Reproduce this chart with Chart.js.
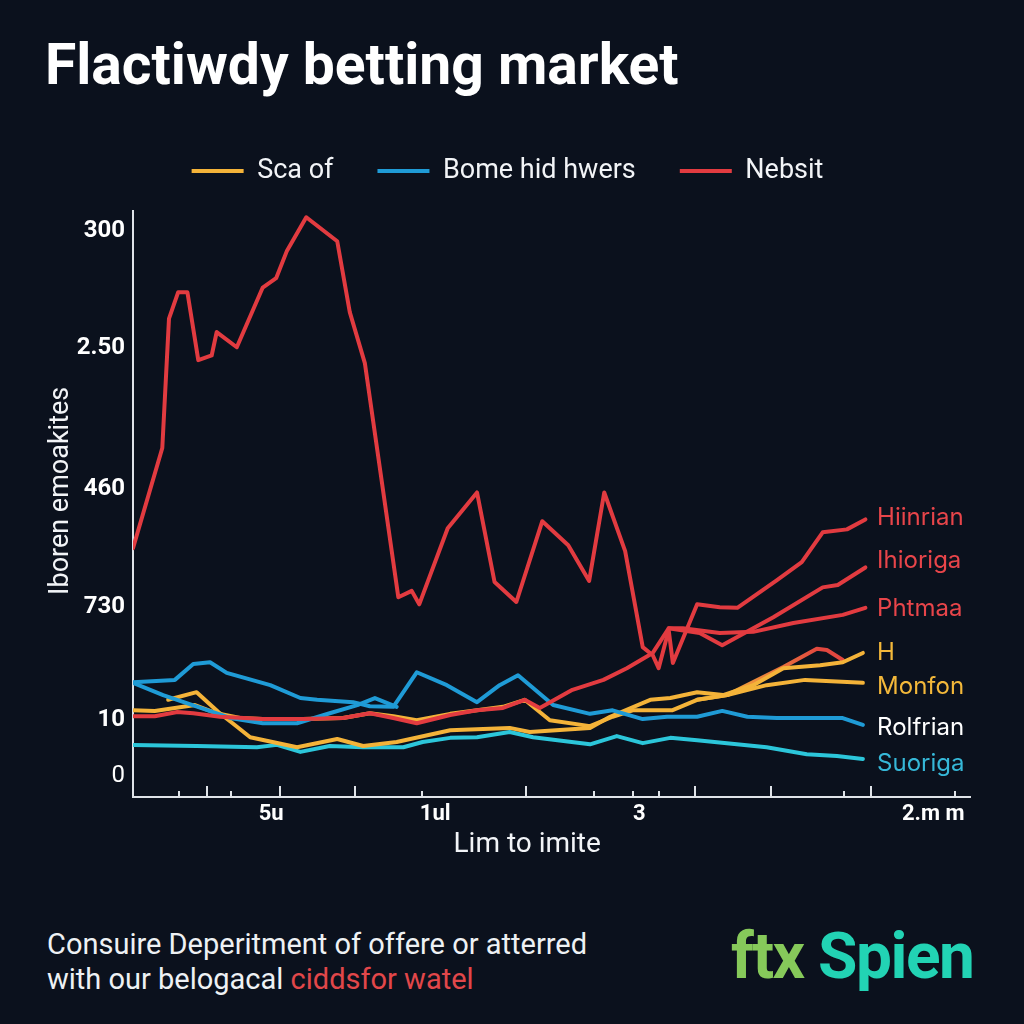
<!DOCTYPE html>
<html>
<head>
<meta charset="utf-8">
<title>Flactiwdy betting market</title>
<script src="https://cdn.jsdelivr.net/npm/chart.js@4.4.1/dist/chart.umd.min.js"></script>
<style>
  html, body { margin: 0; padding: 0; background: #0b111d; }
  body { width: 1024px; height: 1024px; position: relative; overflow: hidden; font-family: Roboto, sans-serif; }
  #wrap { position: absolute; left: 0; top: 0; width: 1024px; height: 880px; }
  .footer { position: absolute; left: 47px; top: 927px; color: #eef1f4; font-size: 29px; line-height: 35px; }
  .footer .hl { color: #e2474a; }
  .logo { position: absolute; left: 731px; top: 920px; font-family: Roboto, sans-serif; font-weight: bold; font-size: 64px; letter-spacing: -1.5px; line-height: 74px; }
  .logo .a { color: #86c95a; }
  .logo .b { color: #22d3b4; }
</style>
</head>
<body>
<div id="wrap"><canvas id="chart" width="1024" height="880"></canvas></div>
<div class="footer">Consuire Deperitment of offere or atterred<br>with our belogacal <span class="hl">ciddsfor watel</span></div>
<div class="logo"><span class="a">ftx</span> <span class="b">Spien</span></div>
<script>
// --- data (x: time index 0-100, y: market index 0-100) ---
const scaOfX  = [0, 2.6, 7.4, 10.0, 12.8, 15.5, 20.3, 25.1, 28.3, 31.1, 33.9, 37.9, 41.1, 44.2, 46.8, 49.8, 54.6, 57.3, 59.7, 64.4, 67.4, 71.0, 75.7, 80.3, 87.2];
const scaOfY  = [14.8, 14.7, 15.7, 14.3, 13.5, 13.3, 13.3, 13.5, 14.3, 13.8, 13.1, 14.2, 14.8, 15.4, 16.6, 13.1, 12.1, 13.7, 14.8, 14.8, 16.6, 17.4, 19.1, 20.0, 19.5];

const bomeX   = [0, 5.0, 7.2, 9.2, 11.2, 16.4, 20.0, 22.0, 26.3, 28.3, 31.1, 33.9, 37.5, 41.1, 43.8, 46.0, 50.2, 54.6, 57.3, 60.9, 63.8, 67.4, 70.4, 73.4, 76.9, 84.7, 87.2];
const bomeY   = [19.6, 20.0, 22.7, 23.0, 21.2, 19.1, 16.9, 16.6, 16.2, 15.5, 15.4, 21.3, 19.1, 16.2, 19.1, 20.8, 15.7, 14.2, 14.8, 13.3, 13.7, 13.7, 14.7, 13.7, 13.5, 13.5, 12.3];

const nebsitX = [0, 3.5, 4.3, 5.4, 6.5, 7.8, 9.4, 10.0, 12.4, 15.5, 17.1, 18.4, 20.7, 24.4, 25.9, 27.7, 31.7, 33.3, 34.2, 37.6, 41.1, 43.2, 45.8, 48.9, 52.0, 54.5, 56.3, 58.8, 60.9, 62.1, 62.8, 64.0, 64.5, 67.4, 70.1, 72.2, 76.9, 79.9, 82.4, 85.3, 87.5];
const nebsitY = [42.5, 59.6, 81.7, 86.2, 86.2, 74.6, 75.4, 79.4, 76.8, 87.0, 88.6, 93.3, 99.0, 94.9, 82.8, 74.1, 34.1, 35.2, 32.9, 45.9, 52.0, 36.7, 33.3, 47.1, 43.0, 36.9, 52.0, 42.0, 25.6, 24.2, 22.0, 28.5, 22.9, 32.9, 32.4, 32.3, 37.0, 40.1, 45.2, 45.7, 47.4];

const phtmaaX = [0, 2.6, 5.3, 7.2, 10.4, 15.5, 20.3, 25.1, 28.3, 31.1, 33.9, 37.9, 41.1, 44.2, 46.8, 48.6, 52.5, 56.2, 59.0, 62.1, 64.0, 65.7, 70.1, 74.1, 78.9, 84.8, 87.5];
const phtmaaY = [13.8, 13.8, 14.5, 14.3, 13.7, 13.3, 13.3, 13.5, 14.3, 13.5, 12.6, 14.0, 14.8, 15.2, 16.6, 15.2, 18.3, 20.0, 22.0, 24.6, 28.8, 28.8, 28.0, 28.2, 29.7, 31.1, 32.3];

const ihorigaX = [64.0, 67.7, 70.4, 76.5, 82.4, 84.2, 87.5];
const ihorigaY = [28.8, 28.0, 25.9, 30.7, 35.8, 36.2, 39.2];

const hX      = [4.2, 7.6, 10.2, 11.9, 14.0, 19.6, 24.4, 27.5, 31.5, 37.9, 45.0, 47.4, 54.6, 57.0, 61.8, 64.2, 67.4, 70.5, 74.1, 77.7, 82.1, 84.8, 87.2];
const hY      = [16.6, 17.9, 14.5, 12.6, 10.2, 8.5, 9.9, 8.7, 9.4, 11.4, 11.8, 11.1, 11.8, 13.7, 16.6, 16.9, 17.9, 17.4, 19.1, 22.0, 22.5, 23.0, 24.6];

const humpX   = [67.4, 71.0, 77.7, 81.7, 82.9, 84.8];
const humpY   = [16.6, 17.4, 22.2, 25.3, 25.1, 23.4];

const lowBlueX = [0, 3.6, 11.6, 15.5, 19.6, 23.5, 26.8, 28.9, 31.5];
const lowBlueY = [19.5, 17.4, 13.5, 12.6, 12.6, 14.3, 15.7, 16.9, 15.4];

const suorigaX = [0, 7.6, 14.8, 17.2, 20.0, 23.5, 27.5, 32.3, 34.6, 37.9, 41.1, 45.0, 47.8, 54.6, 57.8, 60.9, 64.2, 67.4, 75.7, 80.5, 84.1, 87.2];
const suorigaY = [8.9, 8.7, 8.5, 8.9, 7.7, 8.7, 8.5, 8.5, 9.4, 10.1, 10.2, 11.1, 10.2, 9.0, 10.4, 9.2, 10.1, 9.7, 8.5, 7.3, 7.0, 6.5];

const yTickVals   = [3.6, 13.1, 32.4, 52.6, 76.6, 96.6];
const yTickLabels = ['0', '10', '730', '460', '2.50', '300'];
const xTickVals   = [16.5, 36.1, 60.5, 95.6];
const xTickLabels = ['5u', '1ul', '3', '2.m m'];
const xMajorMarks = [8.8, 17.6, 26.5, 47.0, 67.1, 76.2, 88.2];
const xMinorMarks = [5.5, 11.7, 34.5, 55.1, 59.7, 62.9, 85.0, 98.2];

const endLabels = ['Hiinrian', 'Ihioriga', 'Phtmaa', 'H', 'Monfon', 'Rolfrian', 'Suoriga'];
const endLabelY = [47.6, 40.3, 32.1, 24.6, 18.8, 11.9, 5.6];

// --- styles ---
const RED = '#e23b40', ORANGE = '#f4b339', BLUE = '#1f9bd6', CYAN = '#2cc6da';
const endLabelColors = ['#e8454a', '#e8454a', '#e8454a', '#f3b83a', '#f3b83a', '#ffffff', '#36b8d8'];

function pts(xs, ys) {
  return xs.map((x, i) => ({ x, y: ys[i] }));
}

function line(label, xs, ys, color, order) {
  return {
    label,
    data: pts(xs, ys),
    xAxisID: 'x',
    yAxisID: 'y',
    borderColor: color,
    backgroundColor: color,
    borderWidth: 4,
    borderJoinStyle: 'round',
    borderCapStyle: 'round',
    pointRadius: 0,
    tension: 0,
    fill: false,
    order
  };
}

// orange turning red along the small hump
function humpGradient(ctx) {
  const chart = ctx.chart;
  const xs = chart.scales.x;
  if (!chart.chartArea || !xs) return '#ee8a3c';
  const g = chart.ctx.createLinearGradient(xs.getPixelForValue(70), 0, xs.getPixelForValue(82), 0);
  g.addColorStop(0, ORANGE);
  g.addColorStop(1, '#e2473f');
  return g;
}

// short tick marks standing inside the plot on the x axis
const tickMarks = {
  id: 'tickMarks',
  afterDraw(chart) {
    const { ctx, chartArea, scales: { x } } = chart;
    ctx.save();
    ctx.strokeStyle = '#dfe3e8';
    ctx.lineWidth = 2;
    const mark = (v, len) => {
      const px = Math.round(x.getPixelForValue(v));
      ctx.beginPath();
      ctx.moveTo(px, chartArea.bottom);
      ctx.lineTo(px, chartArea.bottom - len);
      ctx.stroke();
    };
    xMajorMarks.forEach(v => mark(v, 11));
    xMinorMarks.forEach(v => mark(v, 6));
    ctx.restore();
  }
};

const endLabelPlugin = {
  id: 'endLabels',
  afterDatasetsDraw(chart) {
    const { ctx, scales: { x, y } } = chart;
    ctx.save();
    ctx.font = '24px Inter, sans-serif';
    ctx.textAlign = 'left';
    ctx.textBaseline = 'middle';
    endLabels.forEach((t, i) => {
      ctx.fillStyle = endLabelColors[i];
      ctx.fillText(t, x.getPixelForValue(88.9), y.getPixelForValue(endLabelY[i]));
    });
    ctx.restore();
  }
};

const datasets = [
  line('Sca of', scaOfX, scaOfY, ORANGE, 2),
  line('Bome hid hwers', bomeX, bomeY, BLUE, 1),
  line('Nebsit', nebsitX, nebsitY, RED, 0),
  line('Phtmaa', phtmaaX, phtmaaY, RED, 0),
  line('Ihioriga', ihorigaX, ihorigaY, RED, 0),
  line('H', hX, hY, ORANGE, 2),
  line('hump', humpX, humpY, humpGradient, 2),
  line('low blue', lowBlueX, lowBlueY, BLUE, 1),
  line('Suoriga', suorigaX, suorigaY, CYAN, 3)
];

new Chart(document.getElementById('chart'), {
  type: 'line',
  data: { datasets },
  plugins: [tickMarks, endLabelPlugin],
  options: {
    responsive: false,
    animation: false,
    events: [],
    layout: { padding: { left: 45, right: 54, top: 0, bottom: 0 } },
    plugins: {
      title: {
        display: true,
        text: 'Flactiwdy betting market',
        align: 'start',
        color: '#ffffff',
        font: { family: 'Roboto', size: 57, weight: 'bold' },
        padding: { top: 36, bottom: 9 }
      },
      legend: {
        display: true,
        position: 'top',
        align: 'center',
        labels: {
          color: '#f2f4f7',
          font: { family: 'Roboto', size: 27 },
          usePointStyle: true,
          pointStyle: 'line',
          pointStyleWidth: 52,
          padding: 44,
          filter: item => item.datasetIndex < 3,
          sort: (a, b) => a.datasetIndex - b.datasetIndex
        }
      },
      tooltip: { enabled: false }
    },
    scales: {
      x: {
        type: 'linear',
        min: 0,
        max: 100,
        grid: { display: false, drawTicks: false },
        border: { display: true, color: '#dfe3e8', width: 2 },
        afterBuildTicks: s => { s.ticks = xTickVals.map(v => ({ value: v })); },
        afterFit: s => { s.height = 83; },
        ticks: {
          autoSkip: false,
          maxRotation: 0,
          padding: 4,
          color: '#ffffff',
          font: { family: 'Roboto', size: 22, weight: 'bold' },
          callback: (v, i) => xTickLabels[i]
        },
        title: {
          display: true,
          text: 'Lim to imite       ',
          color: '#f2f4f7',
          font: { family: 'Roboto', size: 28 },
          padding: { top: 0, bottom: 18 }
        }
      },
      y: {
        min: 0,
        max: 100,
        grid: { display: false, drawTicks: false },
        border: { display: true, color: '#dfe3e8', width: 2 },
        afterBuildTicks: s => { s.ticks = yTickVals.map(v => ({ value: v })); },
        afterFit: s => { s.width = 88; },
        ticks: {
          autoSkip: false,
          padding: 8,
          color: '#ffffff',
          // the bottom "0" is set lighter than the rest
          font: c => ({ family: 'Roboto', size: 24, weight: c.index === 0 ? 'normal' : 'bold' }),
          callback: (v, i) => yTickLabels[i]
        },
        title: {
          display: true,
          text: '    Iboren emoakites',
          color: '#f2f4f7',
          font: { family: 'Roboto', size: 27 },
          padding: { top: 0, bottom: 0 }
        }
      },
      // empty band between the legend and the plot
      gap: {
        type: 'linear',
        position: 'top',
        min: 0,
        max: 1,
        grid: { display: false, drawTicks: false },
        border: { display: false },
        ticks: { display: false },
        afterFit: s => { s.height = 17; }
      }
    }
  }
});
</script>
</body>
</html>
